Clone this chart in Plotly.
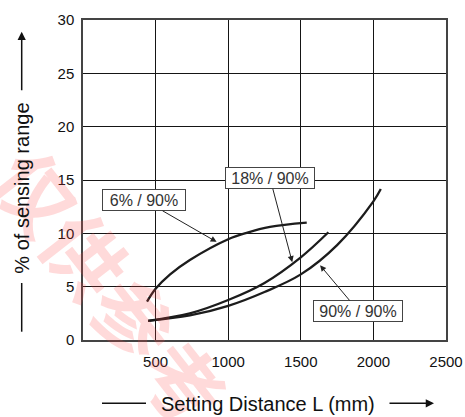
import plotly.graph_objects as go

# ---- data ----
x_6 = [441, 500, 600, 736, 1000, 1127, 1288, 1541]
y_6 = [3.6, 4.8, 6.15, 7.5, 9.45, 10.05, 10.6, 11.0]

x_18 = [448, 736, 1000, 1250, 1500, 1690]
y_18 = [1.8, 2.5, 3.75, 5.35, 7.75, 10.1]

x_90 = [448, 736, 1000, 1250, 1500, 1750, 2000, 2051]
y_90 = [1.8, 2.3, 3.2, 4.5, 6.15, 8.9, 13.0, 14.15]

x_ticks = [500, 1000, 1500, 2000, 2500]
x_ticktext = ["500", "1000", "1500", "2000", "2500"]
y_ticks = [0, 5, 10, 15, 20, 25, 30]
y_ticktext = ["0", "5", "10", "15", "20", "25", "30"]

label_names = ["6% / 90%", "18% / 90%", "90% / 90%"]
label_pos_x = [422, 1288, 1897]
label_pos_y = [13.1, 15.16, 2.72]
label_tip_x = [920, 1441, 1633]
label_tip_y = [9.2, 7.3, 7.0]
label_widths = [80, 86, 86]

x_title = "Setting Distance L (mm)"
y_title = "% of sensing range"
watermark = "仅供参考"

# ---- geometry helpers (screen pixel -> paper) ----
W, H = 465, 417
L, R, T, B = 83, 446, 20, 340


def pxp(x):
    return (x - L) / (R - L)


def pyp(y):
    return (B - y) / (B - T)


FONT = "Liberation Sans, Arial, sans-serif"
CURVE = "#1c1c1c"

fig = go.Figure()
for xs, ys in [(x_6, y_6), (x_18, y_18), (x_90, y_90)]:
    fig.add_trace(go.Scatter(x=xs, y=ys, mode="lines",
                             line=dict(color=CURVE, width=2.3, shape="spline", smoothing=1.0),
                             showlegend=False, hoverinfo="skip"))

annotations = []
# watermark (faint)
annotations.append(dict(xref="paper", yref="paper", x=pxp(112), y=pyp(285),
                        xanchor="center", yanchor="middle",
                        text=watermark, showarrow=False, textangle=52,
                        font=dict(family="Noto Sans CJK SC", size=80, weight="bold",
                                  color="rgba(255,70,70,0.2)")))

for name, lx, ly, tx, ty, w in zip(label_names, label_pos_x, label_pos_y,
                                   label_tip_x, label_tip_y, label_widths):
    annotations.append(dict(x=tx, y=ty, xref="x", yref="y", ax=lx, ay=ly,
                            axref="x", ayref="y", text=name, showarrow=True,
                            arrowhead=2, arrowsize=1.2, arrowwidth=1, arrowcolor="#222",
                            font=dict(family=FONT, size=16, color="#333"),
                            bgcolor="white", bordercolor="#444", borderwidth=1,
                            borderpad=1, width=w, height=18))

# axis titles
annotations.append(dict(xref="paper", yref="paper", x=pxp(267.5), y=pyp(404),
                        text=x_title, showarrow=False, xanchor="center", yanchor="middle",
                        font=dict(family=FONT, size=20, color="#111")))
annotations.append(dict(xref="paper", yref="paper", x=pxp(21.7), y=pyp(188),
                        text=y_title, showarrow=False, textangle=-90,
                        xanchor="center", yanchor="middle",
                        font=dict(family=FONT, size=20, color="#111")))
# arrows
annotations.append(dict(xref="paper", yref="paper", x=pxp(434), y=pyp(403.3),
                        ax=-46, ay=0, text="", showarrow=True, arrowhead=2,
                        arrowsize=1.1, arrowwidth=1.5, arrowcolor="#111"))
annotations.append(dict(xref="paper", yref="paper", x=pxp(21.7), y=pyp(31.7),
                        ax=0, ay=60, text="", showarrow=True, arrowhead=2,
                        arrowsize=1.1, arrowwidth=1.5, arrowcolor="#111"))

shapes = [
    dict(type="line", xref="paper", yref="paper", x0=pxp(102), x1=pxp(146),
         y0=pyp(403.3), y1=pyp(403.3), line=dict(color="#111", width=1.5)),
    dict(type="line", xref="paper", yref="paper", x0=pxp(21.7), x1=pxp(21.7),
         y0=pyp(283), y1=pyp(331.7), line=dict(color="#111", width=1.5)),
]

fig.update_layout(
    width=W, height=H,
    margin=dict(l=L, r=W - R, t=T, b=H - B, pad=0),
    paper_bgcolor="white", plot_bgcolor="white",
    font=dict(family=FONT, color="#222"),
    annotations=annotations, shapes=shapes,
    xaxis=dict(range=[0, 2500], tickvals=x_ticks, ticktext=x_ticktext,
               showgrid=True, gridcolor="#151515", gridwidth=1.2,
               showline=True, linecolor="#444", linewidth=1.5, mirror=True,
               zeroline=False, ticks="", tickfont=dict(size=15, color="#111"),
               ticklabelstandoff=7, ticklabeloverflow="allow", automargin=False),
    yaxis=dict(range=[0, 30], tickvals=y_ticks, ticktext=y_ticktext,
               showgrid=True, gridcolor="#151515", gridwidth=1.2,
               showline=True, linecolor="#444", linewidth=1.5, mirror=True,
               zeroline=False, ticks="", tickfont=dict(size=15, color="#111"),
               ticklabelstandoff=4, automargin=False),
)

fig.write_html("out.html", config={"displayModeBar": False},
               post_script="document.body.style.margin='0';document.body.style.overflow='hidden';")
